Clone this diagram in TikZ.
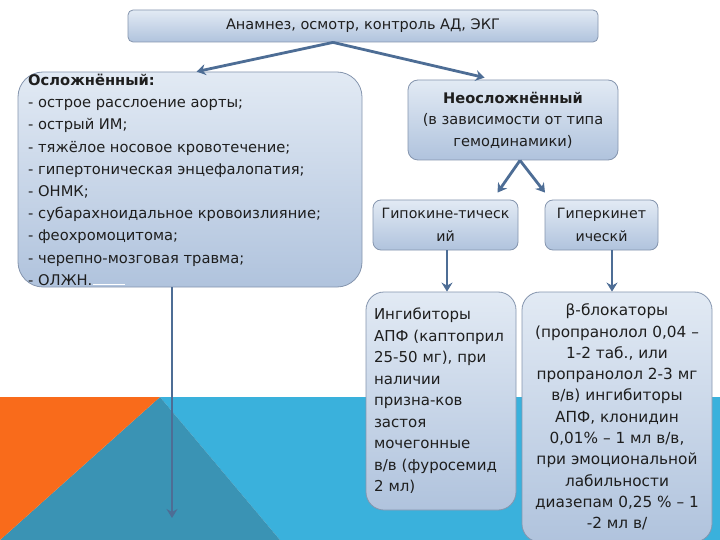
\documentclass[tikz,border=0pt]{standalone}
\usepackage{fontspec}
\setmainfont{DejaVu Sans}
\usetikzlibrary{arrows.meta}
\definecolor{boxtop}{HTML}{E2EAF4}
\definecolor{boxbot}{HTML}{B0C3DD}
\definecolor{boxdraw}{HTML}{8595AE}
\definecolor{arrcol}{HTML}{4D6D95}
\definecolor{txt}{HTML}{1E1E1E}
\definecolor{orng}{HTML}{F96B1B}
\definecolor{teal}{HTML}{3A93B4}
\definecolor{lblue}{HTML}{3AB1DC}
\tikzset{
  box/.style={draw=boxdraw, line width=0.8pt, top color=boxtop, bottom color=boxbot, inner sep=0pt, text=txt},
  arr/.style={draw=arrcol, line width=2.8pt, -{Stealth[length=9pt,width=11pt,inset=3pt]}},
  body/.style={font=\fontsize{14.7}{22.2}\selectfont, text=txt}
}
\begin{document}
\begin{tikzpicture}[x=1pt,y=-1pt]
\useasboundingbox (0,0) rectangle (720,540);
% background
\fill[white] (0,0) rectangle (720,540);
\fill[lblue] (160,397) -- (720,397) -- (720,540) -- (280,540) -- cycle;
\fill[teal] (160,397) -- (280,540) -- (0,540) -- cycle;
\fill[orng] (0,397) -- (160,397) -- (0,540) -- cycle;
% boxes
\node[box, rounded corners=5pt, minimum width=470pt, minimum height=32pt, font=\fontsize{14.5}{20}\selectfont] (top) at (363,26) {Анамнез, осмотр, контроль АД, ЭКГ};
\node[box, rounded corners=25pt, minimum width=344pt, minimum height=215pt] (lb) at (190,179.5) {};
\node[body, anchor=north west, align=left, inner sep=0pt] (lbt) at (28,74) {\textbf{Осложнённый:}\\
- острое расслоение аорты;\\
- острый ИМ;\\
- тяжёлое носовое кровотечение;\\
- гипертоническая энцефалопатия;\\
- ОНМК;\\
- субарахноидальное кровоизлияние;\\
- феохромоцитома;\\
- черепно-мозговая травма;\\
- ОЛЖН.};
\draw[white, line width=0.8pt] (93,284) -- (125,284);
\node[box, rounded corners=10pt, minimum width=210pt, minimum height=80pt, align=center, font=\fontsize{14.6}{21.5}\selectfont] (ne) at (513,120) {\textbf{Неосложнённый}\\(в зависимости от типа\\гемодинамики)};
\node[box, rounded corners=8pt, minimum width=145pt, minimum height=50pt, align=center, font=\fontsize{14.2}{23}\selectfont] (gk) at (445.5,225) {Гипокине-тическ\\ий};
\node[box, rounded corners=8pt, minimum width=113pt, minimum height=50pt, align=center, font=\fontsize{14.2}{23}\selectfont] (gr) at (601.5,225) {Гиперкинет\\ическй};
\node[box, rounded corners=18pt, minimum width=150pt, minimum height=218pt, text width=134pt, align=left, font=\fontsize{15}{21.5}\selectfont] (ib) at (441,401) {Ингибиторы\\АПФ (каптоприл\\25-50 мг), при\\наличии\\призна-ков\\застоя\\мочегонные\\в/в (фуросемид\\2 мл)};
\node[box, rounded corners=18pt, minimum width=190pt, minimum height=250pt, align=center, font=\fontsize{15.3}{21.3}\selectfont] (bb) at (617,417) {β-блокаторы\\(пропранолол 0,04 –\\1-2 таб., или\\пропранолол 2-3 мг\\в/в) ингибиторы\\АПФ, клонидин\\0,01\% – 1 мл в/в,\\при эмоциональной\\лабильности\\диазепам 0,25 \% – 1\\-2 мл в/};
% connectors
\coordinate (lend) at (172,518);
\draw[arr] ([xshift=-30pt]top.south) -- ([xshift=179pt]lb.north west);
\draw[arr] ([xshift=-30pt]top.south) -- ([xshift=77pt,yshift=2pt]ne.north west);
\draw[arr] ([xshift=7pt]ne.south) -- ([xshift=52pt,yshift=7pt]gk.north);
\draw[arr] ([xshift=7pt]ne.south) -- ([xshift=-56.5pt,yshift=7pt]gr.north);
\draw[arr] ([xshift=1.5pt]gk.south) -- ([xshift=6pt]ib.north);
\draw[arr] ([xshift=10.5pt]gr.south) -- ([xshift=-5pt]bb.north);
\draw[arr] ([xshift=-18pt]lb.south) -- (lend);
\end{tikzpicture}
\end{document}
